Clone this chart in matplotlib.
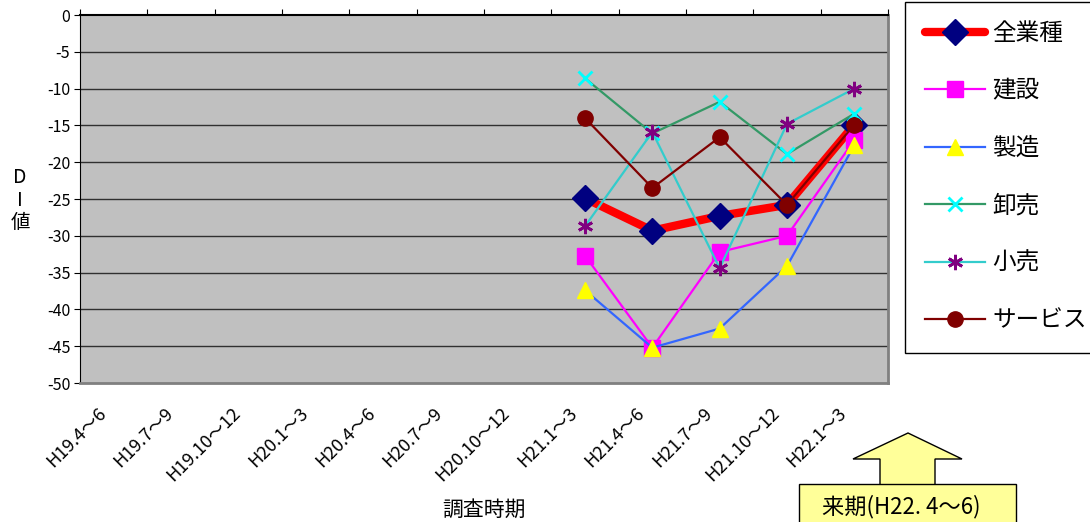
import numpy as np
import matplotlib
matplotlib.use("Agg")
import matplotlib.pyplot as plt
from matplotlib.patches import Polygon, Rectangle
from matplotlib.transforms import ScaledTranslation

plt.rcParams['font.family'] = ['Noto Sans CJK JP', 'DejaVu Sans']
plt.rcParams['axes.unicode_minus'] = False

# 調査時期
periods = ["H19.4～6", "H19.7～9", "H19.10～12", "H20.1～3", "H20.4～6", "H20.7～9",
           "H20.10～12", "H21.1～3", "H21.4～6", "H21.7～9", "H21.10～12", "H22.1～3"]

nan = np.nan
# 業種別 DI値 (H21.1～3 から)
zen = [nan] * 7 + [-24.9, -29.3, -27.3, -25.8, -14.9]
kensetsu = [nan] * 7 + [-32.7, -45.2, -32.2, -30.0, -17.0]
seizou = [nan] * 7 + [-37.4, -45.2, -42.6, -34.1, -17.7]
oroshi = [nan] * 7 + [-8.6, -16.1, -11.8, -18.9, -13.4]
kouri = [nan] * 7 + [-28.7, -15.9, -34.4, -14.8, -10.0]
service = [nan] * 7 + [-14.0, -23.5, -16.6, -25.8, -14.9]

W, H = 1090, 522
fig = plt.figure(figsize=(W / 100, H / 100), dpi=100)
ax = fig.add_axes([80 / W, 1 - 383 / H, 808 / W, 368 / H])
ax.set_facecolor("#C0C0C0")

x = np.arange(len(periods))

ax.plot(x, zen, color="#FF0000", lw=6, marker="D", ms=13, mfc="#000080", mec="#000080",
        solid_capstyle="round", label="全業種", zorder=3)
ax.plot(x, kensetsu, color="#FF00FF", lw=1.6, marker="s", ms=11, mfc="#FF00FF", mec="#FF00FF",
        label="建設", zorder=4)
ax.plot(x, seizou, color="#3366FF", lw=1.6, marker="^", ms=12, mfc="#FFFF00", mec="#FFFF00",
        label="製造", zorder=4)
ax.plot(x, oroshi, color="#339966", lw=1.6, marker="x", ms=10, mew=2, mec="#00FFFF",
        label="卸売", zorder=4)
ax.plot(x, kouri, color="#33CCCC", lw=1.6, marker=(6, 2, 0), ms=11, mew=2, mec="#800080",
        label="小売", zorder=4)
ax.plot(x, service, color="#800000", lw=1.6, marker="o", ms=11, mfc="#800000", mec="#800000",
        label="サービス", zorder=4)

ax.set_xlim(-0.5, len(periods) - 0.5)
ax.set_ylim(-50, 0)
ax.set_yticks(np.arange(-50, 1, 5))
for v in range(-45, 0, 5):
    ax.axhline(v, color="#303030", lw=1, zorder=1)

# 目盛: 区切りは上側 (0 の位置), ラベルは下側
ax.set_xticks(np.arange(-0.5, len(periods), 1))
ax.set_xticklabels([])
ax.tick_params(axis="x", which="major", top=True, bottom=False, direction="out",
               length=4, color="black")
ax.set_xticks(x, minor=True)
ax.set_xticklabels(periods, minor=True, rotation=45, ha="right", va="top",
                   rotation_mode="anchor", fontsize=13)
ax.tick_params(axis="x", which="minor", length=0, pad=15)
shift = ScaledTranslation(-17 / 100, 0, fig.dpi_scale_trans)
for lab in ax.get_xticklabels(minor=True):
    lab.set_transform(lab.get_transform() + shift)
ax.tick_params(axis="y", direction="out", length=4, labelsize=11.5, pad=3)

ax.spines["left"].set_color("black")
ax.spines["top"].set_color("black")
ax.spines["top"].set_linewidth(1.5)
ax.spines["bottom"].set_color("#808080")
ax.spines["right"].set_color("#808080")
ax.spines["bottom"].set_linewidth(2)
ax.spines["right"].set_linewidth(2)

fig.text(20 / W, 1 - 200 / H, "D\nI\n値", ha="center", va="center", fontsize=14,
         linespacing=1.1)
fig.text(484 / W, 1 - 510 / H, "調査時期", ha="center", va="center", fontsize=15)

leg = fig.legend(loc="upper left", bbox_to_anchor=(905 / W, 1 - 2 / H), fontsize=17,
                 frameon=True, fancybox=False, edgecolor="black", framealpha=1,
                 labelspacing=1.46, handlelength=2.55, handletextpad=0.3,
                 borderpad=0.85, borderaxespad=0)
leg.get_frame().set_linewidth(1)


def px(pts):
    return [(a / W, 1 - b / H) for a, b in pts]


# 来期の矢印と枠
arrow = Polygon(px([(908, 433), (962, 459), (935, 459), (935, 485), (880, 485), (880, 459), (853, 459)]),
                closed=True, facecolor="#FFFF99", edgecolor="black", lw=1,
                transform=fig.transFigure)
fig.patches.append(arrow)
box = Rectangle((799 / W, 0 - 0.01), (1016 - 799) / W, (522 - 484) / H + 0.01,
                facecolor="#FFFF99", edgecolor="black", lw=1, transform=fig.transFigure)
fig.patches.append(box)
fig.text(822 / W, 1 - 507 / H, "来期(H22. 4～6)", ha="left", va="center", fontsize=16)

fig.savefig("out.png", dpi=100)
